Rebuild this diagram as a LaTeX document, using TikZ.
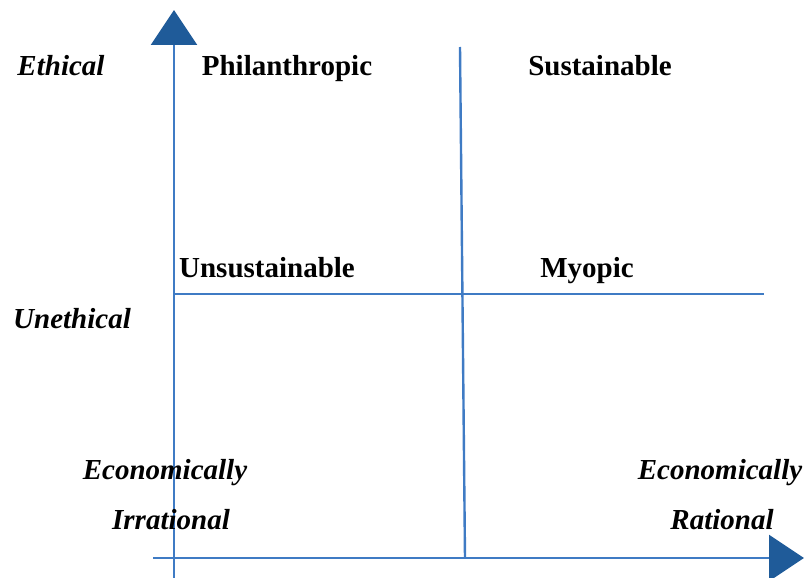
\documentclass[tikz,border=0pt]{standalone}
\usepackage{fontspec}
\setmainfont{Liberation Serif}
\usetikzlibrary{arrows.meta}
\definecolor{linecol}{HTML}{3F7BC4}
\definecolor{arrowcol}{HTML}{1F5B99}
\tikzset{
  axis/.style={draw=linecol, line width=2.4pt},
  axisarrow/.style={axis, -{Triangle[length=35pt,width=46pt,fill=arrowcol,color=arrowcol]}},
  quad/.style={font=\fontsize{29}{32}\selectfont\bfseries, inner sep=0pt, text height=19pt, text depth=0pt},
  side/.style={font=\fontsize{29}{32}\selectfont\bfseries\itshape, inner sep=0pt, text height=19pt, text depth=0pt}
}
\begin{document}
\begin{tikzpicture}[x=1pt,y=-1pt]
\useasboundingbox (0,0) rectangle (804,578);
% coordinates
\coordinate (vb) at (174,578);
\coordinate (vt) at (174,10);
\coordinate (hl) at (153,558);
\coordinate (hr) at (804,558);
\coordinate (mt) at (460,47);
\coordinate (mb) at (465,558);
\coordinate (ml) at (174,294);
\coordinate (mr) at (764,294);
% lines
\draw[axis] (mt) -- (mb);
\draw[axis] (ml) -- (mr);
\draw[axisarrow] (vb) -- (vt);
\draw[axisarrow] (hl) -- (hr);
% labels
\node[side] (eth) at (61,66) {Ethical};
\node[side] (uneth) at (72,319) {Unethical};
\node[quad] (phil) at (287,66) {Philanthropic};
\node[quad] (sust) at (600,66) {Sustainable};
\node[quad] (unsust) at (267,268) {Unsustainable};
\node[quad] (myop) at (587,268) {Myopic};
\node[side] (ei1) at (165,470) {Economically};
\node[side] (ei2) at (171,520) {Irrational};
\node[side] (er1) at (720,470) {Economically};
\node[side] (er2) at (722,520) {Rational};
\end{tikzpicture}
\end{document}
